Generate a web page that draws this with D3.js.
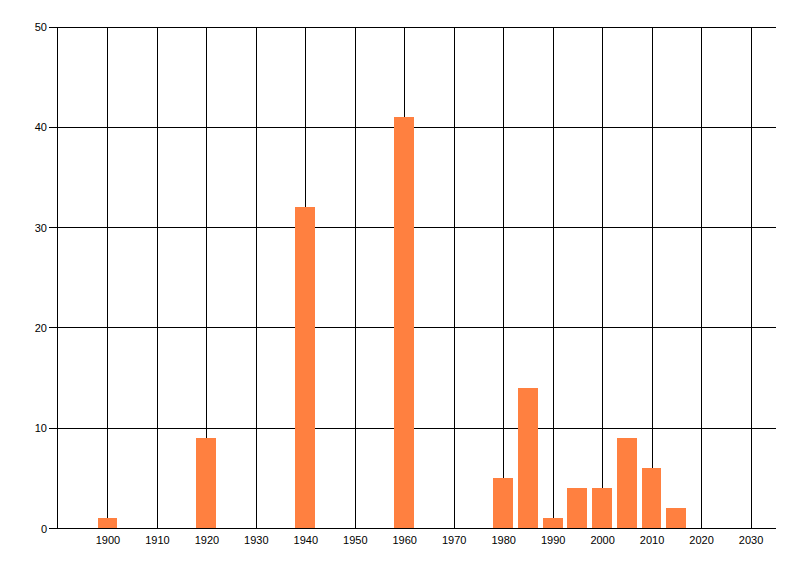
<!DOCTYPE html>
<html>
<head>
<meta charset="utf-8">
<script src="https://cdn.jsdelivr.net/npm/d3@7"></script>
<style>
  html, body { margin: 0; padding: 0; background: #fff; }
  svg text { font-family: "Liberation Sans", Arial, sans-serif; font-size: 11px; fill: #000; }
</style>
</head>
<body>
<svg id="chart" width="800" height="576"></svg>
<script>
const years = [1900, 1920, 1940, 1960, 1980, 1985, 1990, 1995, 2000, 2005, 2010, 2015];
const counts = [1, 9, 32, 41, 5, 14, 1, 4, 4, 9, 6, 2];
const xTicks = [1900, 1910, 1920, 1930, 1940, 1950, 1960, 1970, 1980, 1990, 2000, 2010, 2020, 2030];
const yTicks = [0, 10, 20, 30, 40, 50];

(function () {
const svg = d3.select("#chart");
const plotLeft = 57, plotRight = 776, plotTop = 26.5, plotBottom = 528;

const x = d3.scaleLinear().domain([1889.8, 2035.15]).range([plotLeft, plotRight]);
const y = d3.scaleLinear().domain([0, 50]).range([plotBottom, plotTop]);
const crisp = v => Math.round(v) + 0.5;

// vertical gridlines
svg.append("g").selectAll("line").data(xTicks).join("line")
  .attr("x1", d => crisp(x(d))).attr("x2", d => crisp(x(d)))
  .attr("y1", crisp(y(50))).attr("y2", crisp(y(0)))
  .attr("stroke", "#000").attr("stroke-width", 1);

// horizontal gridlines
svg.append("g").selectAll("line").data(yTicks).join("line")
  .attr("x1", plotLeft).attr("x2", plotRight)
  .attr("y1", d => crisp(y(d))).attr("y2", d => crisp(y(d)))
  .attr("stroke", "#000").attr("stroke-width", 1);

// left axis line
svg.append("line")
  .attr("x1", crisp(plotLeft)).attr("x2", crisp(plotLeft))
  .attr("y1", crisp(y(50))).attr("y2", crisp(y(0)))
  .attr("stroke", "#000");

// bars
svg.append("g").selectAll("rect").data(years.map((yr, i) => ({yr, v: counts[i]}))).join("rect")
  .attr("x", d => Math.round(x(d.yr - 2)))
  .attr("width", d => Math.round(x(d.yr + 2)) - Math.round(x(d.yr - 2)))
  .attr("y", d => Math.round(y(d.v)))
  .attr("height", d => Math.round(y(0)) - Math.round(y(d.v)))
  .attr("fill", "#ff8040");

// y axis ticks and labels
const yAxis = svg.append("g");
yAxis.selectAll("line").data(yTicks).join("line")
  .attr("x1", 49).attr("x2", plotLeft)
  .attr("y1", d => crisp(y(d))).attr("y2", d => crisp(y(d)))
  .attr("stroke", "#000");
yAxis.selectAll("text").data(yTicks).join("text")
  .attr("x", 47).attr("y", d => y(d) + 4.5)
  .attr("text-anchor", "end")
  .text(d => d);

// x labels
svg.append("g").selectAll("text").data(xTicks).join("text")
  .attr("x", d => x(d) + 0.5).attr("y", 544)
  .attr("text-anchor", "middle")
  .text(d => d);
})();
</script>
</body>
</html>
